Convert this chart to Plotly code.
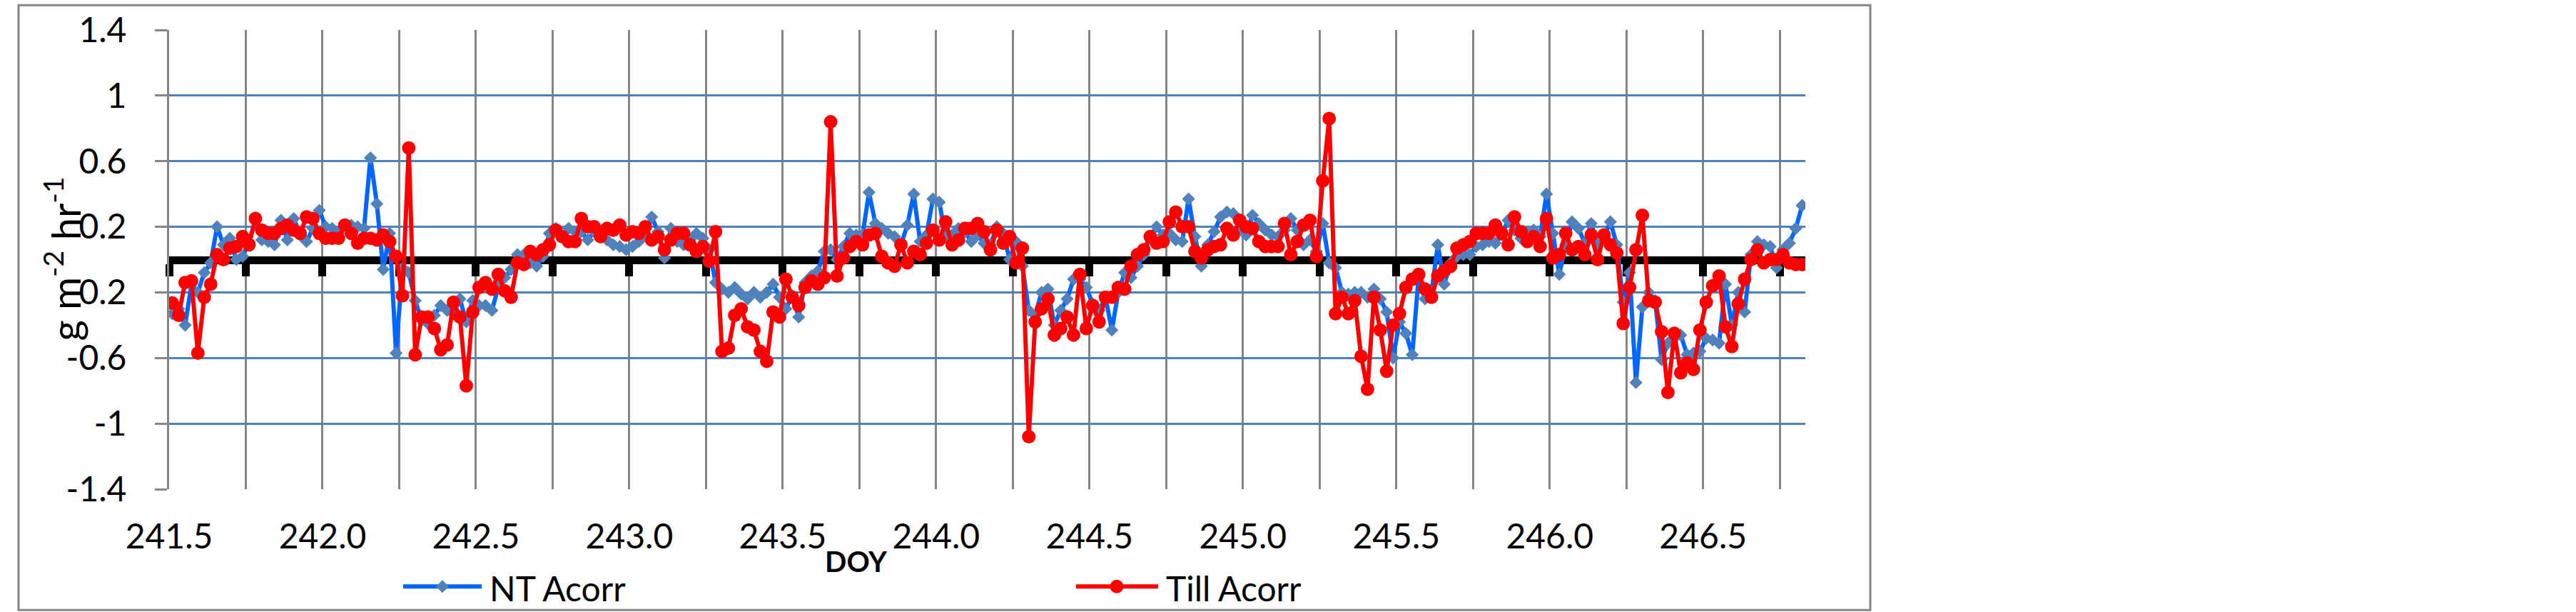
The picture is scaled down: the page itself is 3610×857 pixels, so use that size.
import numpy as np
import plotly.graph_objects as go

# Half-hourly fluxes (g m-2 hr-1)
nt_acorr = [
    -0.33, -0.30, -0.40, -0.15, -0.20, -0.08, -0.02, 0.20, 0.09, 0.13, 0.00, 0.02,
    0.11, 0.24, 0.12, 0.11, 0.09, 0.24, 0.12, 0.25, 0.15, 0.11, 0.19, 0.30,
    0.20, 0.19, 0.16, 0.21, 0.21, 0.20, 0.19, 0.62, 0.34, -0.06, 0.16, -0.57,
    -0.05, -0.08, -0.25, -0.37, -0.39, -0.34, -0.28, -0.31, -0.33, -0.24, -0.38, -0.25,
    -0.28, -0.28, -0.31, -0.17, -0.11, -0.06, 0.03, 0.03, -0.02, -0.04, 0.02, 0.16,
    0.19, 0.14, 0.19, 0.17, 0.17, 0.12, 0.17, 0.15, 0.12, 0.09, 0.08, 0.06,
    0.08, 0.11, 0.15, 0.26, 0.17, 0.01, 0.19, 0.11, 0.09, 0.12, 0.16, 0.13,
    0.06, -0.14, -0.18, -0.20, -0.17, -0.21, -0.24, -0.20, -0.23, -0.20, -0.15, -0.23,
    -0.30, -0.22, -0.35, -0.14, -0.10, -0.07, 0.05, 0.06, 0.00, 0.08, 0.16, 0.15,
    0.15, 0.41, 0.22, 0.19, 0.16, 0.14, 0.09, 0.21, 0.40, 0.11, 0.15, 0.37,
    0.35, 0.14, 0.15, 0.19, 0.17, 0.11, 0.15, 0.10, 0.09, 0.20, 0.16, 0.00,
    0.11, -0.04, -0.31, -0.34, -0.20, -0.18, -0.40, -0.31, -0.24, -0.12, -0.12, -0.17,
    -0.27, -0.31, -0.23, -0.43, -0.20, -0.08, -0.11, -0.04, 0.03, 0.14, 0.20, 0.15,
    0.16, 0.12, 0.11, 0.37, 0.14, -0.04, 0.09, 0.17, 0.26, 0.29, 0.28, 0.19,
    0.15, 0.27, 0.22, 0.18, 0.15, 0.14, 0.18, 0.25, 0.18, 0.09, 0.12, 0.05,
    0.22, -0.02, -0.05, -0.20, -0.21, -0.20, -0.20, -0.23, -0.18, -0.24, -0.32, -0.60,
    -0.38, -0.45, -0.58, -0.10, -0.24, -0.20, 0.09, -0.15, -0.02, 0.02, 0.03, 0.03,
    0.08, 0.09, 0.11, 0.10, 0.15, 0.24, 0.18, 0.13, 0.16, 0.18, 0.14, 0.40,
    0.16, -0.09, 0.09, 0.23, 0.19, 0.10, 0.22, 0.09, 0.14, 0.23, 0.09, -0.26,
    -0.08, -0.75, -0.29, -0.20, -0.25, -0.61, -0.51, -0.48, -0.46, -0.58, -0.57, -0.56,
    -0.48, -0.49, -0.51, -0.15, -0.40, -0.20, -0.32, 0.03, 0.11, 0.09, 0.08, -0.05,
    0.06, 0.10, 0.19, 0.33,
]

till_acorr = [
    -0.265, -0.34, -0.14, -0.13, -0.57, -0.23, -0.15, 0.03, 0.00, 0.07, 0.08, 0.14,
    0.09, 0.25, 0.18, 0.16, 0.16, 0.19, 0.21, 0.18, 0.16, 0.26, 0.25, 0.16,
    0.13, 0.13, 0.13, 0.21, 0.16, 0.10, 0.13, 0.13, 0.12, 0.15, 0.11, 0.02,
    -0.22, 0.68, -0.58, -0.35, -0.35, -0.42, -0.55, -0.52, -0.26, -0.35, -0.77, -0.32,
    -0.17, -0.14, -0.18, -0.09, -0.19, -0.23, -0.02, -0.03, 0.05, 0.03, 0.06, 0.09,
    0.18, 0.14, 0.11, 0.11, 0.25, 0.20, 0.20, 0.14, 0.19, 0.18, 0.21, 0.15,
    0.17, 0.16, 0.20, 0.12, 0.14, 0.06, 0.12, 0.16, 0.16, 0.09, 0.05, 0.08,
    -0.01, 0.17, -0.56, -0.54, -0.34, -0.30, -0.41, -0.43, -0.56, -0.62, -0.32, -0.35,
    -0.12, -0.23, -0.28, -0.17, -0.13, -0.15, -0.11, 0.84, -0.10, 0.01, 0.08, 0.11,
    0.09, 0.15, 0.16, 0.02, -0.02, -0.04, 0.09, -0.02, 0.05, 0.03, 0.10, 0.18,
    0.12, 0.23, 0.09, 0.12, 0.19, 0.19, 0.22, 0.17, 0.06, 0.18, 0.10, 0.14,
    -0.02, 0.07, -1.08, -0.38, -0.30, -0.24, -0.46, -0.42, -0.35, -0.46, -0.09, -0.42,
    -0.28, -0.38, -0.23, -0.23, -0.17, -0.18, -0.04, 0.03, 0.06, 0.14, 0.10, 0.11,
    0.23, 0.29, 0.20, 0.20, 0.05, 0.01, 0.06, 0.08, 0.09, 0.19, 0.15, 0.24,
    0.20, 0.19, 0.11, 0.08, 0.08, 0.08, 0.22, 0.03, 0.11, 0.21, 0.24, 0.02,
    0.48, 0.86, -0.33, -0.23, -0.33, -0.25, -0.59, -0.79, -0.23, -0.43, -0.68, -0.40,
    -0.33, -0.17, -0.12, -0.09, -0.18, -0.23, -0.10, -0.07, -0.04, 0.07, 0.09, 0.11,
    0.16, 0.16, 0.16, 0.21, 0.16, 0.09, 0.26, 0.17, 0.11, 0.14, 0.08, 0.25,
    0.01, 0.03, 0.16, 0.06, 0.08, 0.03, 0.15, 0.00, 0.15, 0.09, 0.04, -0.39,
    -0.17, 0.06, 0.27, -0.25, -0.26, -0.44, -0.81, -0.45, -0.69, -0.63, -0.67, -0.43,
    -0.26, -0.16, -0.10, -0.41, -0.53, -0.27, -0.12, 0.00, 0.06, -0.02, 0.00, 0.00,
    0.03, -0.02, -0.03, -0.03,
]

# first record is 12:15 on DOY 241, then every half hour
first_doy = 241.5104
doy = np.round(first_doy + np.arange(len(nt_acorr)) / 48, 4)

x_range = [241.5, 246.8333]
x_tick_vals = [241.5, 242.0, 242.5, 243.0, 243.5, 244.0, 244.5, 245.0, 245.5, 246.0, 246.5]
x_tick_text = ["241.5", "242.0", "242.5", "243.0", "243.5", "244.0",
               "244.5", "245.0", "245.5", "246.0", "246.5"]
x_grid_step = 0.25  # vertical grid lines / axis ticks every 6 h
y_range = [-1.4, 1.4]
y_tick_vals = [-1.4, -1.0, -0.6, -0.2, 0.2, 0.6, 1.0, 1.4]
y_tick_text = ["-1.4", "-1", "-0.6", "-0.2", "0.2", "0.6", "1", "1.4"]

# ── layout geometry (page pixels) ───────────────────────────────────────────
W, H = 3610, 857
L, R, T, B = 237, 2530, 39, 685  # plot area edges

GRID_GREY = "#868686"
GRID_BLUE = "#4F81BD"
NT_LINE = "#0066FF"
TILL_RED = "#FF0000"
FONT = "Lato"


def px(x):
    return (x - L) / (R - L)


def py(y):
    return (B - y) / (B - T)


fig = go.Figure()

fig.add_trace(go.Scatter(
    x=doy, y=nt_acorr, name="NT Acorr", mode="lines+markers",
    line=dict(color=NT_LINE, width=6),
    marker=dict(symbol="diamond", size=14, color=GRID_BLUE),
    showlegend=False,
))
fig.add_trace(go.Scatter(
    x=doy, y=till_acorr, name="Till Acorr", mode="lines+markers",
    line=dict(color=TILL_RED, width=6),
    marker=dict(symbol="circle", size=19, color=TILL_RED),
    showlegend=False,
))
# invisible helper so the zero-crossing axis (x2) gets drawn
fig.add_trace(go.Scatter(
    x=x_range, y=[0, 0], xaxis="x2", yaxis="y", mode="lines",
    line=dict(width=0), opacity=0, hoverinfo="skip", showlegend=False,
))

# hand-drawn legend so the line samples are as long as in the original
shapes = [
    dict(type="rect", xref="paper", yref="paper",
         x0=px(26), x1=px(2621), y0=py(855), y1=py(4),
         line=dict(color=GRID_GREY, width=3), layer="below"),
    dict(type="line", xref="paper", yref="paper",
         x0=px(565), x1=px(675), y0=py(822), y1=py(822),
         line=dict(color=NT_LINE, width=6)),
    dict(type="path", xref="paper", yref="paper",
         xsizemode="pixel", ysizemode="pixel", xanchor=px(620), yanchor=py(822),
         path="M0,9 L9,0 L0,-9 L-9,0 Z",
         fillcolor=GRID_BLUE, line=dict(width=0)),
    dict(type="line", xref="paper", yref="paper",
         x0=px(1508), x1=px(1623), y0=py(822), y1=py(822),
         line=dict(color=TILL_RED, width=6)),
    dict(type="circle", xref="paper", yref="paper",
         xsizemode="pixel", ysizemode="pixel", xanchor=px(1565), yanchor=py(822),
         x0=-9.5, x1=9.5, y0=-9.5, y1=9.5,
         fillcolor=TILL_RED, line=dict(width=0)),
]

annotations = [
    dict(text="NT Acorr", xref="paper", yref="paper", x=px(684), y=py(824),
         xanchor="left", yanchor="middle", showarrow=False,
         font=dict(family=FONT, size=48, color="black")),
    dict(text="Till Acorr", xref="paper", yref="paper", x=px(1632), y=py(824),
         xanchor="left", yanchor="middle", showarrow=False,
         font=dict(family=FONT, size=48, color="black")),
    dict(text="<b>DOY</b>", xref="paper", yref="paper", x=px(1200), y=py(786),
         xanchor="center", yanchor="middle", showarrow=False,
         font=dict(family=FONT, size=40, color="black")),
    dict(text="g m<sup>-2</sup> hr<sup>-1</sup>", xref="paper", yref="paper",
         x=px(88), y=py(361), xanchor="center", yanchor="middle",
         textangle=-90, showarrow=False,
         font=dict(family=FONT, size=56, color="black")),
]

fig.update_layout(
    width=W, height=H,
    margin=dict(l=L, r=W - R, t=T, b=H - B, pad=0),
    paper_bgcolor="white", plot_bgcolor="white",
    font=dict(family=FONT, size=47, color="black"),
    showlegend=False,
    shapes=shapes,
    annotations=annotations,
    xaxis=dict(
        range=x_range, tickmode="array", tickvals=x_tick_vals, ticktext=x_tick_text,
        showgrid=True, gridcolor=GRID_GREY, gridwidth=3,
        minor=dict(tickmode="linear", tick0=x_range[0], dtick=x_grid_step,
                   showgrid=True, gridcolor=GRID_GREY, gridwidth=3, ticks=""),
        showline=False, zeroline=False, ticks="",
        ticklabelstandoff=34,
        tickfont=dict(family=FONT, size=48, color="black"),
    ),
    # the black x-axis crossing at zero, with its tick marks
    xaxis2=dict(
        overlaying="x", anchor="free", position=0.5, range=x_range,
        tickmode="linear", tick0=x_range[0], dtick=x_grid_step,
        showline=True, linecolor="black", linewidth=11,
        ticks="outside", ticklen=17, tickwidth=11, tickcolor="black",
        showticklabels=False, showgrid=False, zeroline=False,
        layer="below traces",
    ),
    yaxis=dict(
        range=y_range, tickmode="array", tickvals=y_tick_vals, ticktext=y_tick_text,
        showgrid=True, gridcolor=GRID_BLUE, gridwidth=3,
        zeroline=False, showline=True, linecolor=GRID_GREY, linewidth=3,
        ticks="outside", ticklen=17, tickwidth=3, tickcolor=GRID_GREY,
        ticklabelstandoff=30,
        tickfont=dict(family=FONT, size=48, color="black"),
    ),
)

fig.write_html(
    "out.html",
    config={"displayModeBar": False},
    post_script="document.body.style.margin='0';",
)
